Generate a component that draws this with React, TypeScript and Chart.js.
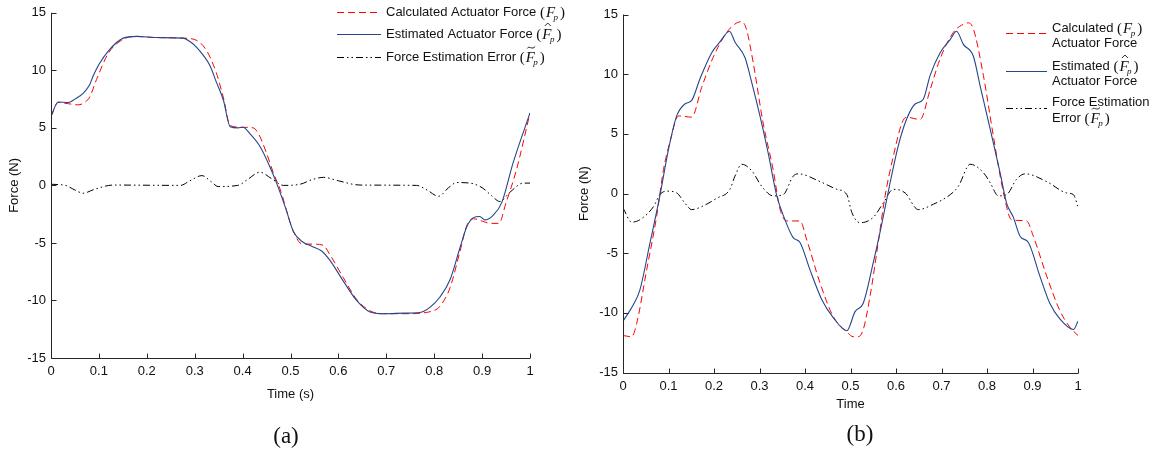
import React, { useEffect, useRef } from "react";
import { Chart, registerables } from "chart.js";
Chart.register(...registerables);

// ---------- tick labels ----------
const xTickLabels = ["0", "0.1", "0.2", "0.3", "0.4", "0.5", "0.6", "0.7", "0.8", "0.9", "1"];
const yTickLabels = ["-15", "-10", "-5", "0", "5", "10", "15"];

// ---------- panel (a) ----------
const aCalcT = [0, 0.015, 0.036, 0.056, 0.07, 0.081, 0.095, 0.12, 0.151, 0.179, 0.22, 0.276, 0.304, 0.325, 0.345, 0.36, 0.374, 0.401, 0.422, 0.433, 0.45, 0.465, 0.478, 0.506, 0.525, 0.545, 0.568, 0.582, 0.61, 0.638, 0.666, 0.694, 0.74, 0.798, 0.812, 0.833, 0.854, 0.868, 0.882, 0.9, 0.917, 0.935, 0.95, 0.972, 1.0];
const aCalcF = [6.0, 7.2, 7.1, 7.0, 7.2, 7.7, 9.2, 11.5, 12.7, 12.95, 12.85, 12.8, 12.6, 11.7, 9.8, 7.6, 5.2, 5.05, 5.0, 4.5, 2.8, 1.0, -0.3, -4.0, -5.1, -5.1, -5.2, -6.0, -8.0, -9.9, -10.9, -11.15, -11.15, -10.9, -10.5, -8.9, -5.7, -3.5, -2.9, -3.1, -3.3, -3.3, -1.5, 1.4, 6.3];

const aEstT = [0, 0.015, 0.036, 0.05, 0.067, 0.08, 0.088, 0.1, 0.12, 0.151, 0.179, 0.22, 0.276, 0.29, 0.304, 0.318, 0.332, 0.345, 0.36, 0.374, 0.39, 0.401, 0.415, 0.436, 0.455, 0.471, 0.49, 0.506, 0.525, 0.545, 0.565, 0.582, 0.61, 0.638, 0.666, 0.694, 0.74, 0.77, 0.791, 0.812, 0.833, 0.854, 0.868, 0.882, 0.895, 0.906, 0.923, 0.941, 0.965, 1.0];
const aEstF = [6.0, 7.25, 7.2, 7.5, 8.0, 8.7, 9.5, 10.5, 11.7, 12.8, 12.95, 12.85, 12.8, 12.5, 12.0, 11.3, 10.4, 9.0, 7.4, 5.1, 5.0, 5.05, 4.5, 3.4, 1.8, 0.2, -2.0, -4.0, -4.9, -5.3, -5.7, -6.5, -8.3, -10.0, -11.0, -11.15, -11.1, -11.05, -10.6, -9.7, -8.2, -5.4, -3.6, -2.8, -2.7, -3.0, -2.6, -1.5, 2.0, 6.3];

const aErrT = [0, 0.03, 0.05, 0.067, 0.09, 0.13, 0.27, 0.29, 0.315, 0.335, 0.349, 0.39, 0.41, 0.436, 0.46, 0.485, 0.52, 0.545, 0.569, 0.6, 0.645, 0.763, 0.785, 0.809, 0.83, 0.847, 0.875, 0.9, 0.92, 0.937, 0.958, 0.986, 1.0];
const aErrF = [0.1, 0.0, -0.4, -0.68, -0.35, 0.03, 0.0, 0.4, 0.85, 0.3, -0.1, 0.0, 0.5, 1.15, 0.6, 0.0, 0.1, 0.5, 0.7, 0.4, 0.03, 0.0, -0.4, -0.95, -0.2, 0.25, 0.2, -0.2, -0.9, -1.4, -0.6, 0.2, 0.2];

// ---------- panel (b) ----------
const bCalcT = [0, 0.019, 0.03, 0.052, 0.074, 0.089, 0.103, 0.122, 0.151, 0.173, 0.198, 0.228, 0.246, 0.261, 0.271, 0.286, 0.308, 0.33, 0.345, 0.36, 0.389, 0.404, 0.433, 0.462, 0.492, 0.506, 0.517, 0.528, 0.543, 0.561, 0.576, 0.594, 0.613, 0.623, 0.653, 0.675, 0.697, 0.726, 0.744, 0.759, 0.77, 0.792, 0.814, 0.836, 0.854, 0.887, 0.902, 0.931, 0.96, 0.982, 1.0];
const bCalcF = [-11.9, -12.0, -10.9, -6.4, -1.9, 2.0, 4.3, 6.5, 6.4, 8.9, 11.4, 13.5, 14.2, 14.4, 13.8, 11.0, 5.9, 2.0, -1.3, -2.3, -2.3, -3.9, -7.5, -10.3, -11.6, -12.0, -12.0, -11.4, -8.6, -4.1, -0.2, 3.1, 5.9, 6.4, 6.2, 8.7, 11.3, 13.5, 14.1, 14.3, 13.8, 9.9, 4.8, 0.1, -2.2, -2.3, -3.6, -6.9, -9.8, -11.2, -11.9];

const bEstT = [0, 0.023, 0.037, 0.059, 0.081, 0.1, 0.118, 0.136, 0.151, 0.169, 0.195, 0.213, 0.234, 0.246, 0.268, 0.283, 0.301, 0.319, 0.338, 0.356, 0.374, 0.389, 0.411, 0.437, 0.462, 0.492, 0.51, 0.528, 0.55, 0.569, 0.587, 0.605, 0.623, 0.642, 0.66, 0.675, 0.697, 0.719, 0.733, 0.748, 0.77, 0.785, 0.807, 0.829, 0.843, 0.858, 0.873, 0.891, 0.916, 0.938, 0.96, 0.99, 1.0];
const bEstF = [-10.7, -9.3, -8.1, -4.2, -0.2, 3.7, 6.5, 7.5, 7.8, 9.6, 11.8, 12.7, 13.6, 12.7, 11.4, 9.3, 6.5, 3.4, -0.2, -2.2, -3.7, -4.1, -6.4, -8.9, -10.4, -11.5, -9.9, -9.2, -5.8, -2.5, 0.9, 4.0, 6.2, 7.5, 7.9, 9.9, 11.8, 12.9, 13.6, 12.5, 11.5, 9.0, 5.4, 1.7, -0.8, -2.0, -3.6, -4.1, -6.9, -9.2, -10.5, -11.4, -10.7];

const bErrT = [0, 0.019, 0.037, 0.067, 0.081, 0.096, 0.118, 0.136, 0.151, 0.173, 0.206, 0.235, 0.246, 0.261, 0.283, 0.305, 0.33, 0.352, 0.374, 0.385, 0.433, 0.47, 0.492, 0.503, 0.521, 0.55, 0.572, 0.594, 0.62, 0.649, 0.682, 0.719, 0.737, 0.763, 0.792, 0.807, 0.825, 0.843, 0.865, 0.884, 0.931, 0.975, 0.99, 1.0];
const bErrF = [-1.2, -2.4, -2.2, -1.1, -0.1, 0.2, 0.05, -0.8, -1.35, -1.1, -0.4, 0.35, 1.45, 2.45, 1.9, 0.6, -0.2, -0.1, 1.45, 1.65, 1.0, 0.35, -0.1, -1.6, -2.45, -2.0, -0.8, 0.35, 0.05, -1.35, -0.9, -0.1, 0.6, 2.45, 1.75, 0.9, -0.2, -0.1, 1.2, 1.65, 1.0, 0.05, -0.1, -1.1];

// ---------- styles ----------
const SANS = '"Liberation Sans", Arial, sans-serif';
const SERIF = '"Liberation Serif", "Times New Roman", serif';
const AXIS_COLOR = "#262626";
const TEXT_COLOR = "#111111";
const RED = "#ff0000";
const BLUE = "#23468c";
const BLACK = "#000000";
const DASH_CALC = [7, 4];
const DASH_ERR = [7, 3, 1.5, 3, 1.5, 3];

const xTickValues = xTickLabels.map(Number);
const yTickValues = yTickLabels.map(Number);

function pts(t: number[], f: number[]) {
  return t.map((x, i) => ({ x, y: f[i] }));
}

function makeDatasets(ct: number[], cf: number[], et: number[], ef: number[], rt: number[], rf: number[]) {
  const base = { pointRadius: 0, cubicInterpolationMode: "monotone", fill: false, parsing: false } as any;
  return [
    { ...base, label: "Estimated", data: pts(et, ef), borderColor: BLUE, borderWidth: 1.1 },
    { ...base, label: "Calculated", data: pts(ct, cf), borderColor: RED, borderWidth: 1, borderDash: DASH_CALC },
    { ...base, label: "Error", data: pts(rt, rf), borderColor: BLACK, borderWidth: 1, borderDash: DASH_ERR },
  ];
}

// ---------- legend helpers ----------
function sample(ctx: CanvasRenderingContext2D, x1: number, x2: number, y: number, color: string, dash: number[], w: number) {
  ctx.save();
  ctx.strokeStyle = color;
  ctx.lineWidth = w;
  ctx.setLineDash(dash);
  ctx.beginPath();
  ctx.moveTo(x1, y + 0.5);
  ctx.lineTo(x2, y + 0.5);
  ctx.stroke();
  ctx.restore();
}

function sansText(ctx: CanvasRenderingContext2D, s: string, x: number, y: number): number {
  ctx.font = `13px ${SANS}`;
  ctx.fillStyle = TEXT_COLOR;
  ctx.textAlign = "left";
  ctx.textBaseline = "middle";
  ctx.fillText(s, x, y);
  return x + ctx.measureText(s).width;
}

function mathF(ctx: CanvasRenderingContext2D, x: number, y: number, accent: "none" | "hat" | "tilde") {
  const base = y + 5;
  ctx.fillStyle = TEXT_COLOR;
  ctx.textBaseline = "alphabetic";
  ctx.textAlign = "left";
  ctx.font = `15px ${SERIF}`;
  ctx.fillText("(", x, base);
  x += ctx.measureText("(").width + 1;
  ctx.font = `italic 15px ${SERIF}`;
  ctx.fillText("F", x, base);
  const fw = ctx.measureText("F").width;
  const cx = x + fw * 0.6;
  const top = base - 14;
  ctx.save();
  ctx.strokeStyle = TEXT_COLOR;
  ctx.lineWidth = 0.9;
  if (accent === "hat") {
    ctx.beginPath();
    ctx.moveTo(cx - 3, top + 1);
    ctx.lineTo(cx, top - 2);
    ctx.lineTo(cx + 3, top + 1);
    ctx.stroke();
  } else if (accent === "tilde") {
    ctx.beginPath();
    ctx.moveTo(cx - 4, top + 0.5);
    ctx.bezierCurveTo(cx - 2, top - 3, cx + 1, top + 2.5, cx + 4, top - 1.5);
    ctx.stroke();
  }
  ctx.restore();
  ctx.font = `italic 9px ${SERIF}`;
  ctx.fillText("p", x + fw - 1.5, base + 3);
  x += fw + ctx.measureText("p").width + 0.5;
  ctx.font = `15px ${SERIF}`;
  ctx.fillText(")", x, base);
}

function legendA(ctx: CanvasRenderingContext2D) {
  const x1 = 337, x2 = 381, tx = 386;
  const rows = [12, 34, 57];
  sample(ctx, x1, x2, rows[0], RED, DASH_CALC, 1);
  mathF(ctx, sansText(ctx, "Calculated Actuator Force ", tx, rows[0]), rows[0], "none");
  sample(ctx, x1, x2, rows[1], BLUE, [], 1.1);
  mathF(ctx, sansText(ctx, "Estimated Actuator Force ", tx, rows[1]), rows[1], "hat");
  sample(ctx, x1, x2, rows[2], BLACK, DASH_ERR, 1);
  mathF(ctx, sansText(ctx, "Force Estimation Error ", tx, rows[2]), rows[2], "tilde");
}

function legendB(ctx: CanvasRenderingContext2D) {
  const off = 570;
  const x1 = 1006 - off, x2 = 1047 - off, tx = 1052 - off;
  sample(ctx, x1, x2, 33, RED, DASH_CALC, 1);
  mathF(ctx, sansText(ctx, "Calculated ", tx, 28), 28, "none");
  sansText(ctx, "Actuator Force", tx, 43);
  sample(ctx, x1, x2, 71, BLUE, [], 1.1);
  mathF(ctx, sansText(ctx, "Estimated ", tx, 66), 66, "hat");
  sansText(ctx, "Actuator Force", tx, 81);
  sample(ctx, x1, x2, 108, BLACK, DASH_ERR, 1);
  sansText(ctx, "Force Estimation", tx, 102);
  mathF(ctx, sansText(ctx, "Error ", tx, 118), 118, "tilde");
}

type PanelProps = {
  left: number;
  width: number;
  height: number;
  area: { l: number; r: number; t: number; b: number };
  xTitle: string;
  xTitlePad: number;
  datasets: any[];
  legend: (ctx: CanvasRenderingContext2D) => void;
};

function Panel(p: PanelProps) {
  const ref = useRef<HTMLCanvasElement>(null);
  useEffect(() => {
    if (!ref.current) return;
    const font = { family: SANS, size: 13 };
    const axesPlugin = {
      id: "matlabAxes",
      afterDraw(chart: any) {
        const { ctx, chartArea: ca, scales } = chart;
        ctx.save();
        ctx.strokeStyle = AXIS_COLOR;
        ctx.lineWidth = 1;
        ctx.setLineDash([]);
        const L = Math.round(ca.left) + 0.5;
        const B = Math.round(ca.bottom) + 0.5;
        ctx.beginPath();
        ctx.moveTo(L, ca.top);
        ctx.lineTo(L, B);
        ctx.lineTo(ca.right, B);
        for (const v of xTickValues) {
          const px = Math.round(scales.x.getPixelForValue(v)) + 0.5;
          ctx.moveTo(px, B);
          ctx.lineTo(px, B - 5);
        }
        for (const v of yTickValues) {
          const py = Math.round(scales.y.getPixelForValue(v)) + 0.5;
          ctx.moveTo(L, py);
          ctx.lineTo(L + 5, py);
        }
        ctx.stroke();
        ctx.restore();
        ctx.save();
        p.legend(ctx);
        ctx.restore();
      },
    };
    const chart = new Chart(ref.current, {
      type: "line",
      data: { datasets: p.datasets },
      options: {
        animation: false,
        responsive: false,
        maintainAspectRatio: false,
        devicePixelRatio: 1,
        layout: { padding: { left: 0, top: p.area.t, right: p.width - p.area.r, bottom: 0 } },
        plugins: { legend: { display: false }, tooltip: { enabled: false }, title: { display: false } },
        scales: {
          x: {
            type: "linear",
            min: 0,
            max: 1,
            afterFit: (s: any) => { s.height = p.height - p.area.b; },
            afterBuildTicks: (s: any) => { s.ticks = xTickValues.map((v) => ({ value: v })); },
            grid: { display: false, drawTicks: false },
            border: { display: false },
            ticks: {
              autoSkip: false,
              maxRotation: 0,
              padding: 6,
              color: TEXT_COLOR,
              font,
              callback: (v: any) => {
                const i = xTickValues.findIndex((t) => Math.abs(t - Number(v)) < 1e-6);
                return i >= 0 ? xTickLabels[i] : "";
              },
            },
            title: { display: true, text: p.xTitle, color: TEXT_COLOR, font, padding: { top: 0, bottom: p.xTitlePad } },
          },
          y: {
            type: "linear",
            min: -15,
            max: 15,
            afterFit: (s: any) => { s.width = p.area.l; },
            afterBuildTicks: (s: any) => { s.ticks = yTickValues.map((v) => ({ value: v })); },
            grid: { display: false, drawTicks: false },
            border: { display: false },
            ticks: {
              autoSkip: false,
              padding: 5,
              color: TEXT_COLOR,
              font,
              callback: (v: any) => {
                const i = yTickValues.findIndex((t) => Math.abs(t - Number(v)) < 1e-6);
                return i >= 0 ? yTickLabels[i] : "";
              },
            },
            title: { display: true, text: "Force (N)", color: TEXT_COLOR, font, padding: { top: 7, bottom: 0 } },
          },
        },
      } as any,
      plugins: [axesPlugin],
    });
    return () => chart.destroy();
  }, []);
  return (
    <canvas
      ref={ref}
      width={p.width}
      height={p.height}
      style={{ position: "absolute", left: p.left, top: 0, width: p.width, height: p.height }}
    />
  );
}

export default function App() {
  const captionStyle = (cx: number, cy: number): React.CSSProperties => ({
    position: "absolute",
    left: cx - 30,
    width: 60,
    top: cy - 14,
    height: 28,
    lineHeight: "28px",
    textAlign: "center",
    fontFamily: SERIF,
    fontSize: 23,
    color: TEXT_COLOR,
  });
  return (
    <div style={{ position: "absolute", left: 0, top: 0, width: 1161, height: 452, background: "#fff", overflow: "hidden" }}>
      <Panel
        left={0}
        width={570}
        height={452}
        area={{ l: 51, r: 530, t: 8, b: 358 }}
        xTitle="Time (s)"
        xTitlePad={50}
        datasets={makeDatasets(aCalcT, aCalcF, aEstT, aEstF, aErrT, aErrF)}
        legend={legendA}
      />
      <Panel
        left={570}
        width={591}
        height={452}
        area={{ l: 53, r: 508, t: 14.5, b: 372.5 }}
        xTitle="Time"
        xTitlePad={40}
        datasets={makeDatasets(bCalcT, bCalcF, bEstT, bEstF, bErrT, bErrF)}
        legend={legendB}
      />
      <div style={captionStyle(286, 436)}>(a)</div>
      <div style={captionStyle(860, 434)}>(b)</div>
    </div>
  );
}
